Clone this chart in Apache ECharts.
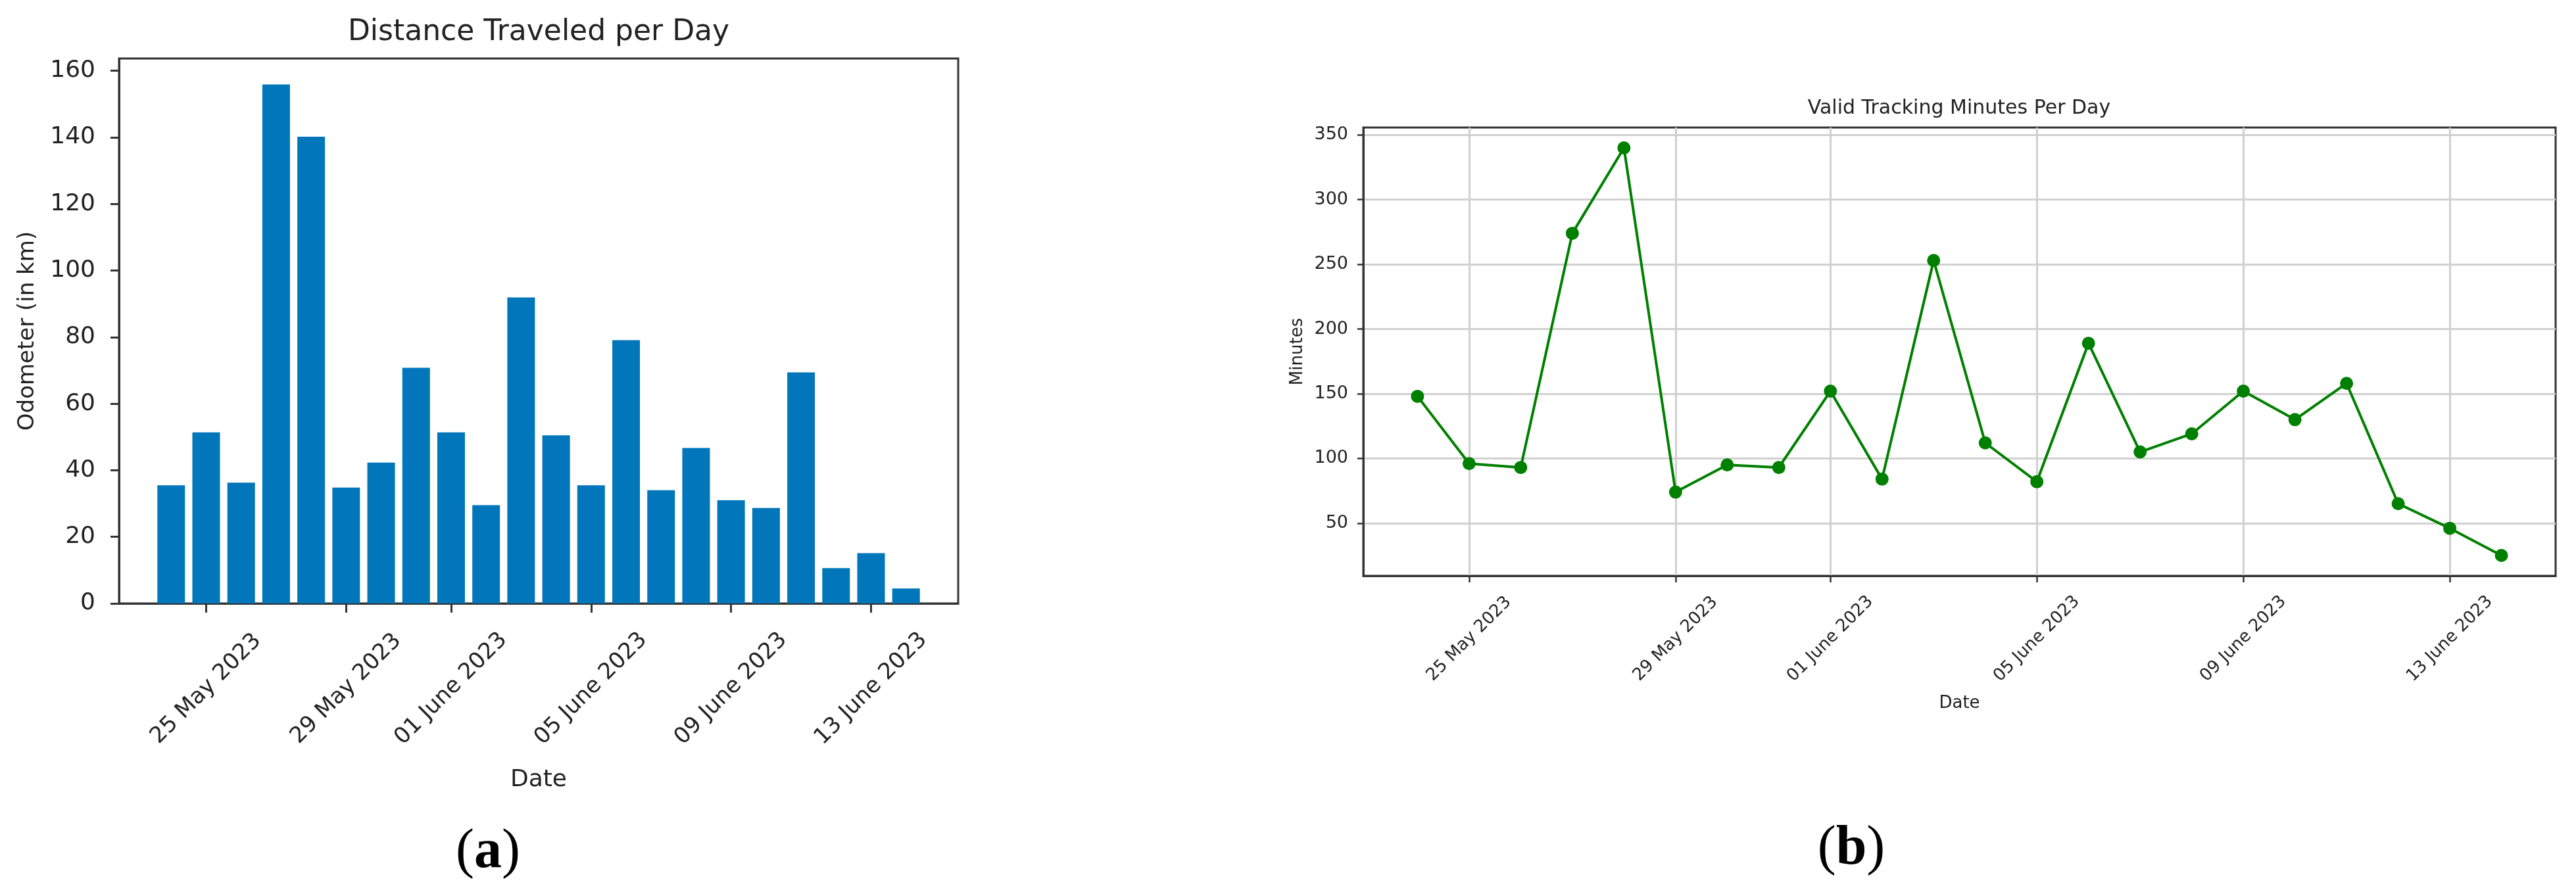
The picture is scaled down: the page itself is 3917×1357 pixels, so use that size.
<!DOCTYPE html>
<html>
<head>
<meta charset="utf-8">
<title>Distance and tracking minutes per day</title>
<script src="https://cdn.jsdelivr.net/npm/echarts@6/dist/echarts.min.js"></script>
<style>
  html, body { margin: 0; padding: 0; background: #fff; }
  #chart { width: 3917px; height: 1357px; }
</style>
</head>
<body>
<div id="chart"></div>
<script>
// one value per day, 24 May .. 14 June 2023
var dates = [
    '2023-05-24', '2023-05-25', '2023-05-26', '2023-05-27', '2023-05-28', '2023-05-29',
    '2023-05-30', '2023-05-31', '2023-06-01', '2023-06-02', '2023-06-03', '2023-06-04',
    '2023-06-05', '2023-06-06', '2023-06-07', '2023-06-08', '2023-06-09', '2023-06-10',
    '2023-06-11', '2023-06-12', '2023-06-13', '2023-06-14'
];
var distanceKm = [35.5, 51.4, 36.3, 155.9, 140.2, 34.8, 42.3, 70.8, 51.4, 29.5, 91.9,
    50.5, 35.5, 79.1, 34.0, 46.7, 31.0, 28.7, 69.4, 10.6, 15.1, 4.5];
var trackingMinutes = [148, 96, 93, 274, 340, 74, 95, 93, 152, 84, 253,
    112, 82, 189, 105, 119, 152, 130, 158, 65, 46, 25];

var dateTicks = ['2023-05-25', '2023-05-29', '2023-06-01', '2023-06-05', '2023-06-09', '2023-06-13'];
var dateTickLabels = ['25 May 2023', '29 May 2023', '01 June 2023', '05 June 2023', '09 June 2023', '13 June 2023'];
var kmTicks = [0, 20, 40, 60, 80, 100, 120, 140, 160];
var minuteTicks = [50, 100, 150, 200, 250, 300, 350];

var DAY = 864e5;
var FONT = 'DejaVu Sans';
var INK = '#222';
var FRAME = '#333';

// x positions are whole days counted from the first date
function dayOf(s) {
    var p = s.split('-');
    var t = Date.UTC(+p[0], +p[1] - 1, +p[2]);
    var q = dates[0].split('-');
    return Math.round((t - Date.UTC(+q[0], +q[1] - 1, +q[2])) / DAY);
}

var days = dates.map(dayOf);
var tickDays = dateTicks.map(dayOf);
var lastDay = days[days.length - 1];

function dateLabel(v) {
    var i = tickDays.indexOf(Math.round(v));
    return i < 0 ? '' : dateTickLabels[i];
}

var minMin = Math.min.apply(null, trackingMinutes);
var minMax = Math.max.apply(null, trackingMinutes);
var minPad = (minMax - minMin) * 0.05;

var chart = echarts.init(document.getElementById('chart'), null, { renderer: 'canvas' });

chart.setOption({
    animation: false,
    backgroundColor: '#fff',
    grid: [
        { left: 181, top: 89, width: 1276, height: 829, show: true, borderColor: FRAME, borderWidth: 3, outerBoundsMode: 'none' },
        { left: 2073, top: 194, width: 1813, height: 682, show: true, borderColor: FRAME, borderWidth: 3, outerBoundsMode: 'none' }
    ],
    xAxis: [
        {
            gridIndex: 0,
            type: 'value',
            min: -1.49,
            max: lastDay + 1.49,
            name: 'Date',
            nameLocation: 'middle',
            nameGap: 251,
            nameTextStyle: { fontFamily: FONT, fontSize: 36, color: INK },
            axisLine: { show: true, onZero: false, lineStyle: { color: FRAME, width: 3 } },
            axisTick: { show: true, length: 14, customValues: tickDays, lineStyle: { color: FRAME, width: 3 } },
            axisLabel: {
                customValues: tickDays,
                formatter: dateLabel,
                rotate: 45,
                align: 'center',
                verticalAlign: 'middle',
                margin: 130,
                fontFamily: FONT, fontSize: 34, color: INK
            },
            splitLine: { show: false }
        },
        {
            gridIndex: 1,
            type: 'value',
            min: -1.05,
            max: lastDay + 1.05,
            name: 'Date',
            nameLocation: 'middle',
            nameGap: 181,
            nameTextStyle: { fontFamily: FONT, fontSize: 26, color: INK },
            axisLine: { show: true, onZero: false, lineStyle: { color: FRAME, width: 3 } },
            axisTick: { show: true, length: 10, customValues: tickDays, lineStyle: { color: FRAME, width: 2.5 } },
            axisLabel: {
                customValues: tickDays,
                formatter: dateLabel,
                rotate: 45,
                align: 'center',
                verticalAlign: 'middle',
                margin: 96,
                fontFamily: FONT, fontSize: 26, color: INK
            },
            splitLine: { show: true, lineStyle: { color: '#d0d0d0', width: 3 } }
        }
    ],
    yAxis: [
        {
            gridIndex: 0,
            type: 'value',
            min: 0,
            max: Math.max.apply(null, distanceKm) * 1.05,
            name: 'Odometer (in km)',
            nameLocation: 'middle',
            nameGap: 122,
            nameTextStyle: { fontFamily: FONT, fontSize: 34, color: INK },
            axisLine: { show: true, onZero: false, lineStyle: { color: FRAME, width: 3 } },
            axisTick: { show: true, length: 13, customValues: kmTicks, lineStyle: { color: FRAME, width: 3 } },
            axisLabel: { customValues: kmTicks, margin: 36, fontFamily: FONT, fontSize: 36, color: INK },
            splitLine: { show: false }
        },
        {
            gridIndex: 1,
            type: 'value',
            min: minMin - minPad,
            max: minMax + minPad,
            name: 'Minutes',
            nameLocation: 'middle',
            nameGap: 87,
            nameTextStyle: { fontFamily: FONT, fontSize: 26, color: INK },
            axisLine: { show: true, onZero: false, lineStyle: { color: FRAME, width: 3 } },
            axisTick: { show: true, length: 9, customValues: minuteTicks, lineStyle: { color: FRAME, width: 2.5 } },
            axisLabel: { customValues: minuteTicks, margin: 23, fontFamily: FONT, fontSize: 27, color: INK },
            splitLine: { show: true, lineStyle: { color: '#d0d0d0', width: 3 } }
        }
    ],
    series: [
        {
            name: 'Distance',
            type: 'bar',
            xAxisIndex: 0,
            yAxisIndex: 0,
            barWidth: 42,
            itemStyle: { color: '#0176BA' },
            data: days.map(function (d, i) { return [d, distanceKm[i]]; })
        },
        {
            name: 'Minutes',
            type: 'line',
            xAxisIndex: 1,
            yAxisIndex: 1,
            symbol: 'circle',
            symbolSize: 20,
            showSymbol: true,
            itemStyle: { color: '#008000' },
            lineStyle: { color: '#008000', width: 4 },
            data: days.map(function (d, i) { return [d, trackingMinutes[i]]; })
        }
    ],
    graphic: [
        {
            type: 'text', x: 819, y: 50,
            style: { text: 'Distance Traveled per Day', fontFamily: FONT, fontSize: 44, fill: INK, align: 'center', verticalAlign: 'middle' }
        },
        {
            type: 'text', x: 2979, y: 165,
            style: { text: 'Valid Tracking Minutes Per Day', fontFamily: FONT, fontSize: 30, fill: INK, align: 'center', verticalAlign: 'middle' }
        },
        {
            type: 'text', x: 742, y: 1297,
            style: {
                text: '({b|a})', fontFamily: 'Liberation Serif', fontSize: 84, fill: '#000',
                align: 'center', verticalAlign: 'middle',
                rich: { b: { fontFamily: 'Liberation Serif', fontSize: 84, fontWeight: 'bold', fill: '#000' } }
            }
        },
        {
            type: 'text', x: 2815, y: 1292,
            style: {
                text: '({b|b})', fontFamily: 'Liberation Serif', fontSize: 84, fill: '#000',
                align: 'center', verticalAlign: 'middle',
                rich: { b: { fontFamily: 'Liberation Serif', fontSize: 84, fontWeight: 'bold', fill: '#000' } }
            }
        }
    ]
});
</script>
</body>
</html>
